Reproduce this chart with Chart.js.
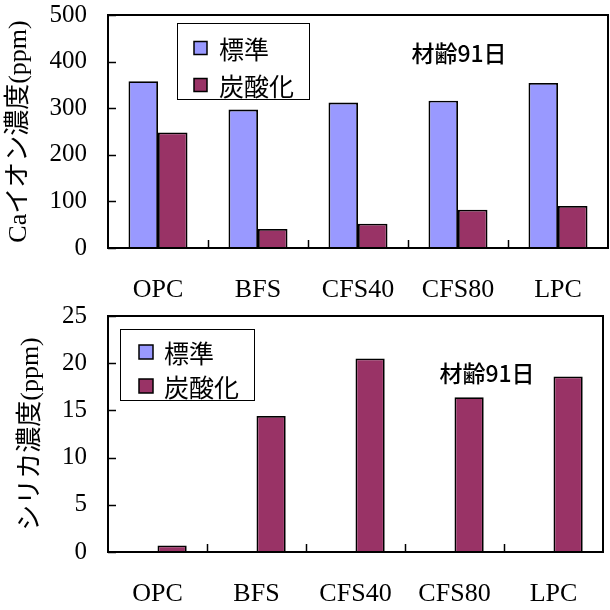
<!DOCTYPE html>
<html>
<head>
<meta charset="utf-8">
<script src="https://cdn.jsdelivr.net/npm/chart.js@4.4.1/dist/chart.umd.min.js"></script>
<style>
  html, body { margin: 0; padding: 0; background: #fff; }
  .wrap { position: absolute; left: 0; width: 610px; }
  #w1 { top: 0; height: 300px; }
  #w2 { top: 300px; height: 310px; }
  canvas { display: block; }
</style>
</head>
<body>
<div class="wrap" id="w1"><canvas id="caChart" width="610" height="300"></canvas></div>
<div class="wrap" id="w2"><canvas id="siChart" width="610" height="310"></canvas></div>
<script>
// Mix designs on the x axis
const categories = ['OPC', 'BFS', 'CFS40', 'CFS80', 'LPC'];
const seriesNames = ['標準', '炭酸化'];

// Ca ion concentration (ppm), age 91 days
const caStandard = [358, 297, 312, 316, 354];
const caCarbonated = [248, 41, 52, 82, 90];
const caTicks = [0, 100, 200, 300, 400, 500];

// Silica concentration (ppm), age 91 days
const siStandard = [0, 0, 0, 0, 0];
const siCarbonated = [0.7, 14.4, 20.5, 16.4, 18.6];
const siTicks = [0, 5, 10, 15, 20, 25];

const ageLabel = '材齢91日';

const COLOR_STD = '#9999FF';
const COLOR_CARB = '#993366';
const SERIF = '"Liberation Serif", "Noto Sans CJK JP", serif';
const SANS = '"Noto Sans CJK JP", sans-serif';

// Frame, inward tick marks, legend box and annotation text
const decorPlugin = {
  id: 'decor',
  afterDraw(chart, args, opts) {
    const { ctx, chartArea: a } = chart;
    const xs = chart.scales.x, ys = chart.scales.y;
    ctx.save();
    ctx.strokeStyle = '#000';
    ctx.lineWidth = 1.5;
    // inward ticks on the value axis
    ys.ticks.forEach(t => {
      const y = Math.round(ys.getPixelForValue(t.value)) + 0.5;
      ctx.beginPath(); ctx.moveTo(a.left, y); ctx.lineTo(a.left + 8, y); ctx.stroke();
    });
    // inward ticks at category boundaries
    const n = chart.data.labels.length;
    for (let i = 1; i < n; i++) {
      const x = Math.round((xs.getPixelForValue(i - 1) + xs.getPixelForValue(i)) / 2) + 0.5;
      ctx.beginPath(); ctx.moveTo(x, a.bottom); ctx.lineTo(x, a.bottom - 8); ctx.stroke();
    }
    // plot frame
    ctx.lineWidth = 2;
    ctx.strokeRect(a.left, a.top, a.right - a.left, a.bottom - a.top);

    // legend box
    const L = opts.legend;
    ctx.lineWidth = 1;
    ctx.strokeStyle = '#000';
    ctx.fillStyle = '#fff';
    ctx.fillRect(L.x, L.y, L.w, L.h);
    ctx.strokeRect(L.x + 0.5, L.y + 0.5, L.w, L.h);
    ctx.font = L.font;
    ctx.textBaseline = 'middle';
    ctx.textAlign = 'left';
    chart.data.datasets.forEach((ds, i) => {
      const cy = L.y + L.rowTop + i * L.rowGap;
      ctx.fillStyle = ds.backgroundColor;
      ctx.fillRect(L.x + L.boxX, cy - L.box / 2, L.box, L.box);
      ctx.lineWidth = 1.5;
      ctx.strokeRect(L.x + L.boxX, cy - L.box / 2, L.box, L.box);
      ctx.fillStyle = '#000';
      ctx.fillText(ds.label, L.x + L.textX, cy + 1);
    });

    // age note
    const T = opts.note;
    ctx.font = T.font;
    ctx.textAlign = 'center';
    ctx.fillStyle = '#000';
    ctx.fillText(T.text, T.x, T.y);
    ctx.restore();
  }
};

function makeChart(id, stdData, carbData, ticks, titleText, cfg) {
  const maxV = ticks[ticks.length - 1];
  const step = ticks[1] - ticks[0];
  return new Chart(document.getElementById(id), {
    type: 'bar',
    data: {
      labels: categories,
      datasets: [
        { label: seriesNames[0], data: stdData, backgroundColor: COLOR_STD,
          borderColor: '#000', borderWidth: 1.8 },
        { label: seriesNames[1], data: carbData, backgroundColor: COLOR_CARB,
          borderColor: '#000', borderWidth: 1.8 }
      ]
    },
    options: {
      responsive: false,
      animation: false,
      events: [],
      layout: { padding: cfg.padding },
      datasets: { bar: { categoryPercentage: 0.59, barPercentage: 1.0 } },
      plugins: {
        legend: { display: false },
        tooltip: { enabled: false },
        decor: { legend: cfg.legend, note: cfg.note }
      },
      scales: {
        x: {
          grid: { display: false, drawTicks: false },
          border: { display: false },
          ticks: { color: '#000', padding: cfg.xPad, font: { family: SERIF, size: 26 }, maxRotation: 0 },
          afterFit(s) { s.height = cfg.xHeight; s.paddingLeft = 0; s.paddingRight = 0; }
        },
        y: {
          min: 0, max: maxV,
          grid: { display: false, drawTicks: false },
          border: { display: false },
          ticks: { color: '#000', stepSize: step, padding: 21, font: { family: SERIF, size: 25 } },
          title: { display: true, text: titleText, color: '#000',
                   font: { family: SERIF, size: 26 }, padding: { top: cfg.titlePad, bottom: 0 } },
          afterFit(s) { s.width = 108; s.paddingTop = 0; s.paddingBottom = 0; }
        }
      }
    },
    plugins: [decorPlugin]
  });
}

makeChart('caChart', caStandard, caCarbonated, caTicks, 'Caイオン濃度(ppm)', {
  padding: { top: 15, right: 2, left: 0, bottom: 0 },
  xHeight: 52, xPad: 27, titlePad: 4,
  legend: { x: 177, y: 23, w: 132, h: 76, font: '25px ' + SANS,
            boxX: 17, box: 13, textX: 42, rowTop: 25, rowGap: 37 },
  note: { text: ageLabel, x: 459, y: 53, font: '500 23px ' + SANS }
});

makeChart('siChart', siStandard, siCarbonated, siTicks, 'シリカ濃度(ppm)', {
  padding: { top: 16, right: 7, left: 0, bottom: 0 },
  xHeight: 58, xPad: 27, titlePad: 16,
  legend: { x: 120, y: 29, w: 134, h: 71, font: '25px ' + SANS,
            boxX: 19, box: 14, textX: 44, rowTop: 23, rowGap: 34 },
  note: { text: ageLabel, x: 487, y: 73, font: '500 23px ' + SANS }
});
</script>
</body>
</html>
